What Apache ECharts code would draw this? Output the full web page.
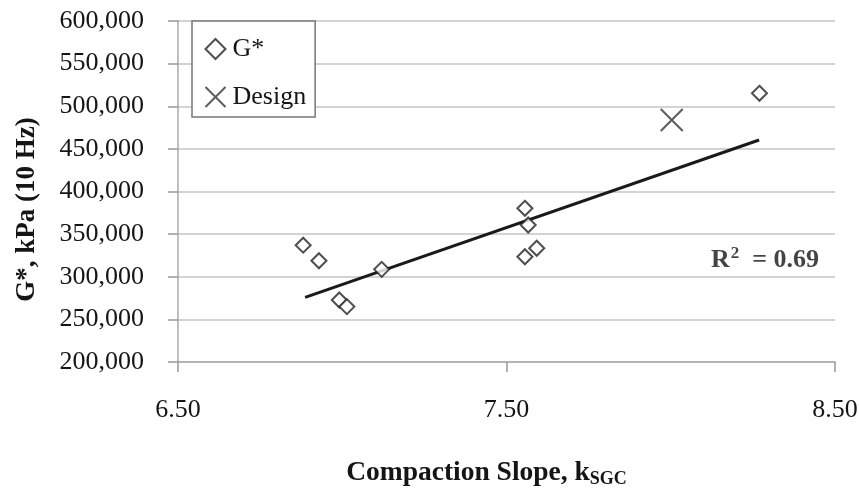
<!DOCTYPE html>
<html>
<head>
<meta charset="utf-8">
<script src="https://cdn.jsdelivr.net/npm/echarts@6/dist/echarts.min.js"></script>
<style>html,body{margin:0;padding:0;background:#fff}#c{width:859px;height:489px}</style>
</head>
<body>
<div id="c"></div>
<script>
// Measured G* values (compaction slope, G* kPa)
var gStarPoints = [
  [6.881, 337000], [6.929, 318800], [6.991, 272700], [7.014, 265000],
  [7.120, 308700], [7.556, 380300], [7.566, 360700], [7.556, 323500],
  [7.592, 333400], [8.270, 515200]
];
// Design point
var designPoints = [[8.003, 483900]];
// Linear trendline end points
var trendPoints = [[6.887, 275900], [8.269, 460400]];
// R squared annotation anchor
var r2Anchor = [[8.287, 319600]];
var r2Value = '0.69';
var xTickLabels = ['6.50', '7.50', '8.50'];
var yTickLabels = ['200,000','250,000','300,000','350,000','400,000','450,000','500,000','550,000','600,000'];

var FONT = '"Liberation Serif", "Times New Roman", serif';
var TXT = '#151515';
var chart = echarts.init(document.getElementById('c'), null, {renderer: 'canvas'});
chart.setOption({
  animation: false,
  backgroundColor: '#fff',
  textStyle: {fontFamily: FONT},
  grid: {left: 178, right: 24, top: 21, bottom: 127, containLabel: false, outerBoundsMode: 'none'},
  legend: {
    orient: 'vertical',
    left: 192, top: 21,
    padding: [15, 9, 7, 11],
    backgroundColor: '#fff',
    borderColor: '#777', borderWidth: 1.5, borderRadius: 0,
    itemWidth: 20, itemHeight: 20, itemGap: 22,
    textStyle: {fontFamily: FONT, fontSize: 26, color: TXT, padding: [0,0,0,2]},
    data: ['G*', 'Design']
  },
  xAxis: {
    type: 'value', min: 6.5, max: 8.5, interval: 1,
    name: '{a|Compaction Slope, k}{s|SGC}',
    nameLocation: 'middle', nameGap: 96,
    nameTextStyle: {
      padding: [0, 40, 0, 0],
      rich: {
        a: {fontFamily: FONT, fontSize: 27.5, fontWeight: 'bold', color: TXT},
        s: {fontFamily: FONT, fontSize: 18, fontWeight: 'bold', color: TXT, padding: [12, 0, 0, 0]}
      }
    },
    axisLine: {show: true, lineStyle: {color: '#aaa', width: 1.5}},
    axisTick: {show: true, inside: false, length: 10, lineStyle: {color: '#999', width: 1.5}},
    axisLabel: {
      margin: 35, fontFamily: FONT, fontSize: 26, color: TXT,
      formatter: function (v) {
        var i = Math.round(v - 6.5);
        return xTickLabels[i] !== undefined ? xTickLabels[i] : '';
      }
    },
    splitLine: {show: false}
  },
  yAxis: {
    type: 'value', min: 200000, max: 600000, interval: 50000,
    name: 'G*, kPa (10 Hz)',
    nameLocation: 'middle', nameGap: 137, nameRotate: 90,
    nameTextStyle: {fontFamily: FONT, fontSize: 27, fontWeight: 'bold', color: TXT, padding: [0, 36, 0, 0]},
    axisLine: {show: true, lineStyle: {color: '#aaa', width: 1.5}},
    axisTick: {show: true, inside: false, length: 10, lineStyle: {color: '#999', width: 1.5}},
    axisLabel: {
      margin: 34, fontFamily: FONT, fontSize: 26, color: TXT,
      formatter: function (v) {
        var i = Math.round((v - 200000) / 50000);
        return yTickLabels[i] !== undefined ? yTickLabels[i] : '';
      }
    },
    splitLine: {show: true, lineStyle: {color: '#c4c4c4', width: 1.5}}
  },
  series: [
    {
      name: 'trend', type: 'line', data: trendPoints, showSymbol: false, symbol: 'none',
      lineStyle: {color: '#1a1a1a', width: 3}, z: 3, silent: true
    },
    {
      name: 'G*', type: 'scatter', data: gStarPoints, symbol: 'diamond', symbolSize: 15,
      itemStyle: {color: '#fff', borderColor: '#222', borderWidth: 2}, z: 4
    },
    {
      name: 'Design', type: 'scatter', data: designPoints,
      symbol: 'path://M0,0L10,10M10,0L0,10', symbolSize: 22,
      itemStyle: {color: 'none', borderColor: '#333', borderWidth: 2}, z: 4
    },
    {
      name: 'r2', type: 'scatter', data: r2Anchor, symbolSize: 1,
      itemStyle: {color: 'rgba(0,0,0,0)'}, silent: true,
      label: {
        show: true, position: 'inside',
        formatter: '{b|R}{sup|2}{b|  = ' + r2Value + '}',
        rich: {
          b: {fontFamily: FONT, fontSize: 26, fontWeight: 'bold', color: TXT},
          sup: {fontFamily: FONT, fontSize: 17, fontWeight: 'bold', color: TXT, padding: [0, 0, 12, 1]}
        }
      }
    }
  ]
});
</script>
</body>
</html>
